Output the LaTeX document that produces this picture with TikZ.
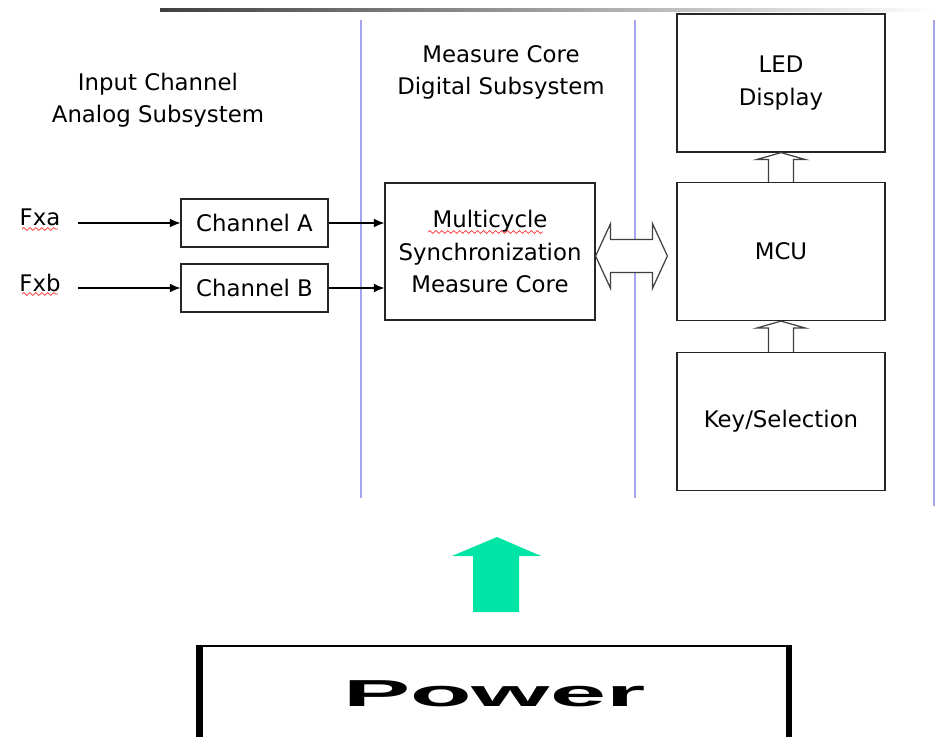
\documentclass[tikz,border=0pt]{standalone}
\usepackage{fontspec}
\setmainfont{DejaVu Sans}
\newfontfamily\powerfont{Liberation Sans}
\usetikzlibrary{arrows.meta,calc,decorations.pathmorphing}
\definecolor{divider}{RGB}{165,165,238}
\definecolor{powergreen}{RGB}{0,229,166}
\begin{document}
\begin{tikzpicture}[x=0.02cm, y=-0.02cm,
  every node/.style={font=\fontsize{13}{18.3}\selectfont},
  block/.style={rectangle, draw=black!85, line width=0.7pt, align=center},
  chan/.style={block, minimum width=2.94cm, minimum height=0.96cm},
  unit/.style={block, minimum width=4.16cm, minimum height=2.76cm},
  title/.style={align=center},
  arrow/.style={-{Latex[length=6pt,width=5pt]}, line width=0.6pt},
  hollow/.style={draw=black!75, line width=0.7pt, fill=white},
  divline/.style={draw=divider, line width=0.8pt},
  squiggle/.style={red!80, line width=0.4pt, decorate,
                   decoration={snake, amplitude=0.8pt, segment length=3.4pt}}
]
  \clip (0,0) rectangle (937,737);
  \fill[white] (0,0) rectangle (937,737);

  % Linha de topo
  \shade[left color=black!75, right color=white] (160,8.5) rectangle (937,11.5);

  % Divisores
  \draw[divline] (361,20) -- (361,498);
  \draw[divline] (635,20) -- (635,498);
  \draw[divline] (934,20) -- (934,506);

  % Titulos
  \node[title] (anaTitle) at (158,100) {Input Channel\\Analog Subsystem};
  \node[title] (digTitle) at (501,72) {Measure Core\\Digital Subsystem};

  % Canais de entrada
  \node (fxa) at (40,217) {Fxa};
  \node (fxb) at (40,283) {Fxb};
  \coordinate (inA) at (78,223);
  \coordinate (inB) at (78,288);
  \node[chan] (chA) at (254.5,223) {Channel A};
  \node[chan] (chB) at (254.5,288) {Channel B};

  % Nucleo de medida
  \node[block, minimum width=4.2cm, minimum height=2.74cm] (core) at (490,251.5)
       {Multicycle\\Synchronization\\Measure Core};

  % Lado do MCU
  \node[unit] (led) at (781,83) {LED\\Display};
  \node[unit] (mcu) at (781,251.5) {MCU};
  \node[unit] (key) at (781,421.5) {Key/Selection};

  % Setas de sinal
  \draw[arrow] (inA) -- (chA.west);
  \draw[arrow] (inB) -- (chB.west);
  \draw[arrow] (chA.east) -- (chA.east -| core.west);
  \draw[arrow] (chB.east) -- (chB.east -| core.west);

  % Barramento nucleo <-> MCU
  \coordinate (busL) at ($(core.east)+(0,4.5)$);
  \coordinate (busR) at ($(mcu.west)+(-9,4.5)$);
  \draw[hollow] (busL) -- ++(15,-32.5) -- ++(0,16) -- ($(busR)+(-15,-16.5)$) -- ++(0,-16)
    -- (busR) -- ++(-15,32.5) -- ++(0,-16) -- ($(busL)+(15,16.5)$) -- ++(0,16) -- cycle;

  % Setas ocas verticais
  \foreach \lo/\hi in {mcu/led, key/mcu} {
    \draw[hollow] ($(\lo.north)+(-12.5,0)$) -- ($(\hi.south)+(-12.5,7)$)
      -- ($(\hi.south)+(-24.5,7)$) -- (\hi.south) -- ($(\hi.south)+(24.5,7)$)
      -- ($(\hi.south)+(12.5,7)$) -- ($(\lo.north)+(12.5,0)$);
  }

  % Marcas de ortografia
  \draw[squiggle] (22,229) -- (58,229);
  \draw[squiggle] (22,294) -- (58,294);
  \draw[squiggle] (428,232) -- (543,232);

  % Alimentacao
  \node[draw, line width=1.1pt, minimum width=11.75cm, minimum height=1.9cm] (power) at (494.25,693.5)
       {\powerfont\bfseries\fontsize{21.4}{24}\selectfont\scalebox{2.68}[1]{Power}};
  \draw[line width=3.8pt] (power.north west) -- (power.south west);
  \draw[line width=3.8pt] (power.north east) -- (power.south east);
  \fill[powergreen] (497,537) -- (541,556) -- (519,556) -- (519,612) -- (473,612)
    -- (473,556) -- (452,556) -- cycle;
\end{tikzpicture}
\end{document}
